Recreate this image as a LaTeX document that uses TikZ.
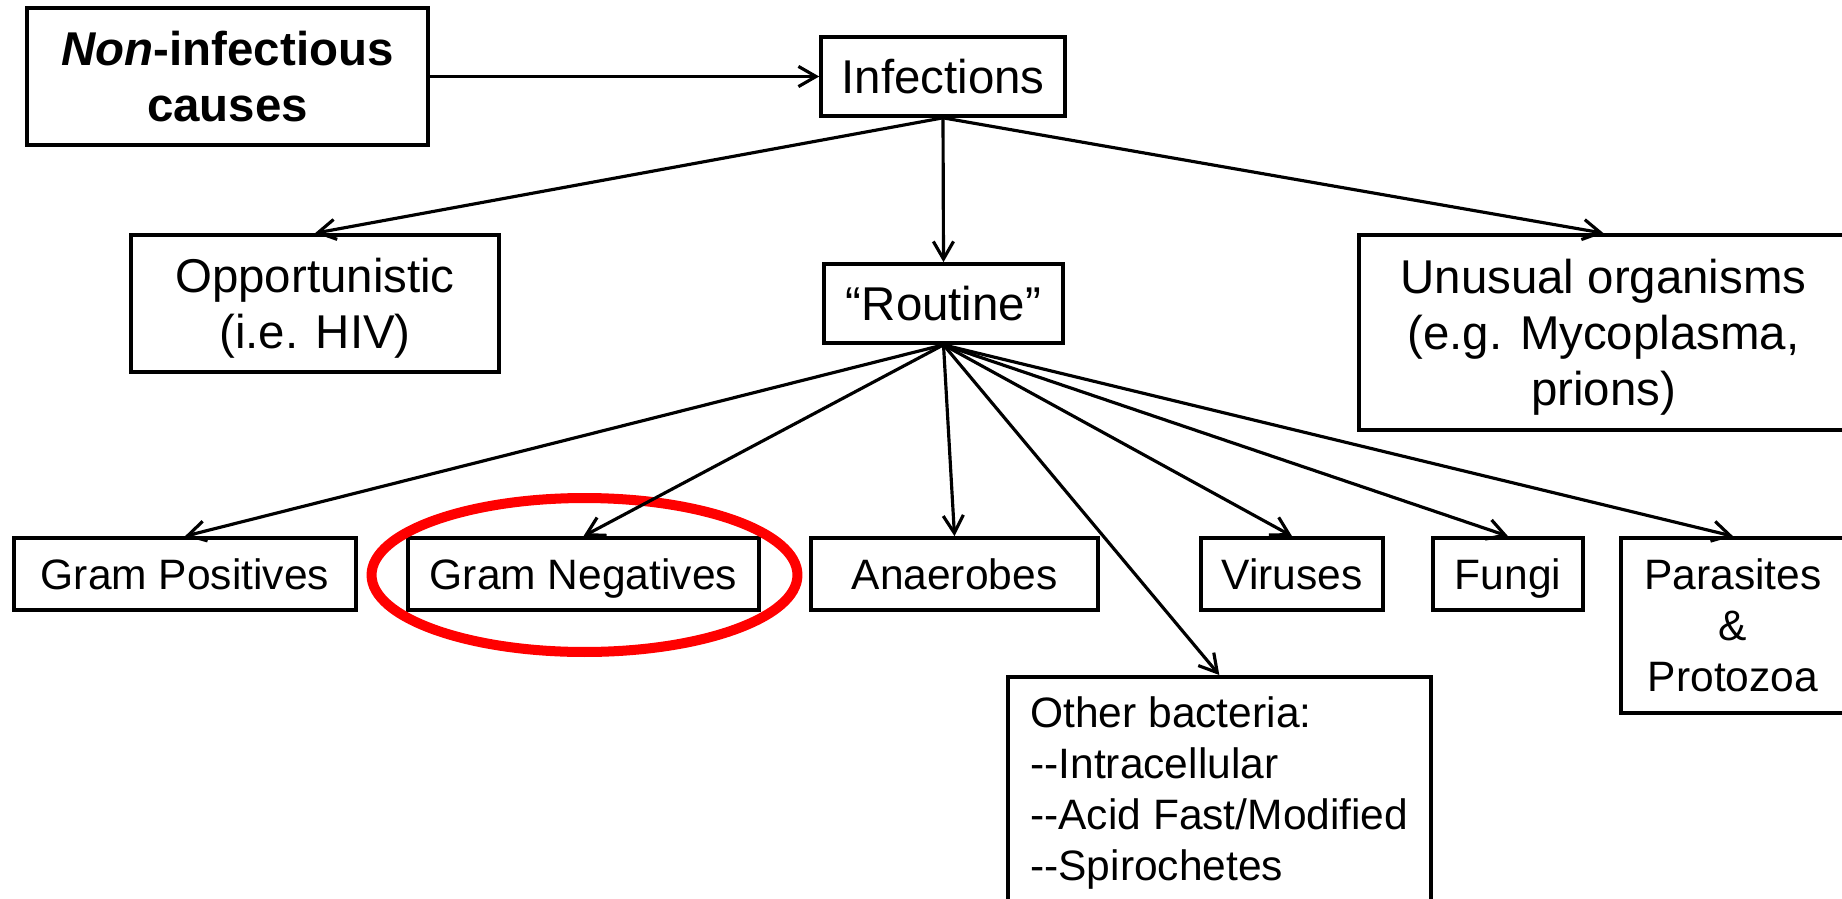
\documentclass[tikz,border=0pt]{standalone}
\usepackage{fontspec}
\setmainfont{Liberation Sans}
\usetikzlibrary{arrows.meta}
\newcommand\bigtxt{\fontsize{27}{32}\selectfont}
\newcommand\smalltxt{\fontsize{24.2}{29}\selectfont}
\newcommand\twodash{-\kern0pt-}

\begin{document}
\begin{tikzpicture}[x=0.02cm,y=-0.02cm,
      box/.style={draw,line width=2.1pt,inner sep=0pt,align=center},
      upper/.style={box,font=\bigtxt},
      lower/.style={box,font=\smalltxt,minimum height=1.44cm,text height=17.4pt,text depth=0pt},
      arr/.style={-{Straight Barb[length=10pt,width=11.5pt]},line width=1.8pt}]
      \useasboundingbox (0,0) rectangle (1842,899);
      \clip (0,0) rectangle (1842,899);
      \node[upper,minimum width=8.02cm,minimum height=2.74cm] (noninf) at (227.5,76.5) {\textbf{\textit{Non}-infectious}\\\textbf{causes}};
      \node[upper,minimum width=4.88cm,minimum height=1.58cm] (infect) at (943,76.5) {Infections};
      \node[upper,minimum width=7.36cm,minimum height=2.74cm,text depth=0pt] (opport) at (315,303.5) {Opportunistic\\(i.e. HIV)};
      \node[upper,minimum width=4.78cm,minimum height=1.58cm] (routine) at (943.5,303.5) {``Routine''};
      \node[upper,minimum width=9.78cm,minimum height=3.9cm,text depth=0pt] (unusual) at (1603.5,332.5) {Unusual organisms\\(e.g. Mycoplasma,\\prions)};

      \node[lower,minimum width=6.84cm] (grampos) at (185,574) {Gram Positives};
      \node[lower,minimum width=7.02cm] (gramneg) at (583.5,574) {Gram Negatives};
      \node[lower,minimum width=5.74cm] (anaer) at (954.5,574) {Anaerobes};
      \node[lower,minimum width=3.64cm] (virus) at (1292,574) {Viruses};
      \node[lower,minimum width=3.0cm] (fungi) at (1508,574) {Fungi};
      \node[box,font=\smalltxt,minimum width=4.48cm,minimum height=3.5cm] (paras) at (1733,625.5) {Parasites\\\&\\Protozoa};
      \node[box,font=\smalltxt,anchor=north west,align=left,minimum width=8.46cm,inner ysep=0.4cm] (other) at (1006,675) {Other bacteria:\\\twodash Intracellular\\\twodash Acid Fast/Modified\\\twodash Spirochetes};

      \draw[red,line width=5.7pt] (584.5,575) ellipse [x radius=4.26cm,y radius=1.54cm];

      \draw[arr] (noninf) -- (infect);
      \draw[arr] (infect.south) -- (opport.north);
      \draw[arr] (infect.south) -- (routine.north);
      \draw[arr] (infect.south) -- (unusual.north);
      \draw[arr] (routine.south) -- (grampos.north);
      \draw[arr] (routine.south) -- (gramneg.north);
      \draw[arr] (routine.south) -- (anaer.north);
      \draw[arr] (routine.south) -- (other.north);
      \draw[arr] (routine.south) -- (virus.north);
      \draw[arr] (routine.south) -- (fungi.north);
      \draw[arr] (routine.south) -- (paras.north);
    \end{tikzpicture}
\end{document}
